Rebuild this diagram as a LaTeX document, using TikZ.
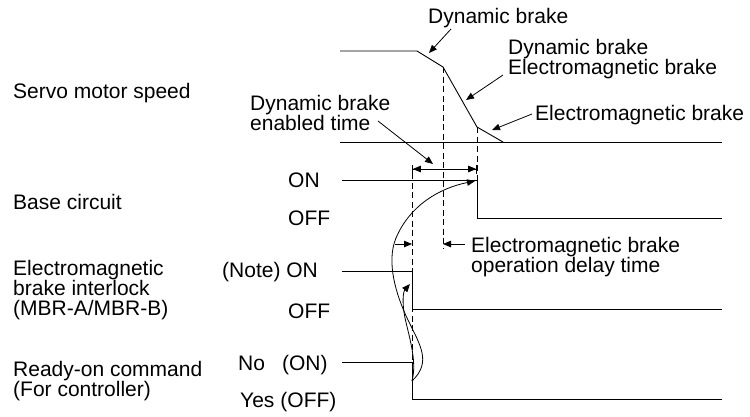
\documentclass[tikz,border=0pt]{standalone}
\usepackage{fontspec}
\setmainfont{Liberation Sans}
\usetikzlibrary{arrows.meta,positioning,calc}
\tikzset{
  tlabel/.style={font=\fontsize{21pt}{20pt}\selectfont,inner sep=0pt,
                 align=left,anchor=base west},
  tsig/.style={line width=0.9pt,black},
  tdash/.style={line width=0.8pt,dash pattern=on 6pt off 3.5pt},
  tlead/.style={line width=0.8pt,-{Triangle[length=8pt,width=6.5pt]}},
  tspan/.style={line width=0.8pt,
                {Bar[width=9pt]Triangle[length=8pt,width=6.5pt]}-{Triangle[length=8pt,width=6.5pt]Bar[width=9pt]}},
}
\begin{document}
\begin{tikzpicture}[x=1pt,y=-1pt]
  \useasboundingbox (0,0) rectangle (750,416);
  % signal names
  \node[tlabel] (speed) at (13,98) {Servo motor speed};
  \node[tlabel] (base) at (13,209) {Base circuit};
  \node[tlabel] (mbr) at (13,315) {Electromagnetic\\brake interlock\\(MBR-A/MBR-B)};
  \node[tlabel] (ready) at (13,396) {Ready-on command\\(For controller)};
  % levels
  \node[tlabel] (bon) at (288,187) {ON};
  \node[tlabel] (boff) at (288,225) {OFF};
  \node[tlabel] (mon) at (222,277) {(Note) ON};
  \node[tlabel] (moff) at (288,318) {OFF};
  \node[tlabel] (ron) at (238,370) {No\hspace{17pt}(ON)};
  \node[tlabel] (roff) at (240,407) {Yes\hspace{6pt}(OFF)};
  % notes
  \node[tlabel] (db) at (428,23) {Dynamic brake};
  \node[tlabel] (dbem) at (508,74) {Dynamic brake\\Electromagnetic brake};
  \node[tlabel] (em) at (535,120) {Electromagnetic brake};
  \node[tlabel] (dbt) at (250,130) {Dynamic brake\\enabled time};
  \node[tlabel] (dly) at (471,272) {Electromagnetic brake\\operation delay time};
  %
  \coordinate (v0) at (340,51);
  \coordinate (v1) at (417,51);
  \coordinate (v2) at (443,67);
  \coordinate (v3) at (477,127);
  \coordinate (v4) at (503,142);
  \coordinate (vs) at (340,142);
  \coordinate (ve) at (722,142);
  \coordinate (c0) at (412,381);
  % waveforms
  \draw[tsig] (v0) -- (v1) -- (v2) -- (v3) -- (v4);
  \draw[tsig] (vs) -- (ve);
  \draw[tsig] (342,180) -- (477,180) -- (477,218) -- (722,218);
  \draw[tsig] (342,271) -- (412,271) -- (412,309) -- (722,309);
  \draw[tsig] (342,362) -- (412,362) -- (412,399) -- (722,399);
  % timing marks
  \draw[tdash] (412,173) -- (412,399);
  \draw[tdash] (v2) -- (443,249);
  \draw[tdash] (v3) -- (477,180);
  \draw[tspan] (412,169) -- (477,169);
  \draw[tlead] (395,244) -- (412,244);
  \draw[tlead] (465,244) -- (443,244);
  % leaders
  \draw[tlead] (451,29) -- (429,53);
  \draw[tlead] (503,75) -- (466,100);
  \draw[tlead] (532,114) -- (492,130);
  \draw[tlead] (378,121) -- (433,164);
  % cause curves
  \draw[tlead] (c0) .. controls (432,362) and (420,345) .. (408,320)
    .. controls (396,295) and (386,262) .. (396,238)
    .. controls (410,205) and (440,188) .. (475,181);
  \draw[tlead] (c0) .. controls (417,362) and (410,340) .. (405,318)
    .. controls (402,303) and (403,292) .. (410,284);
\end{tikzpicture}
\end{document}
